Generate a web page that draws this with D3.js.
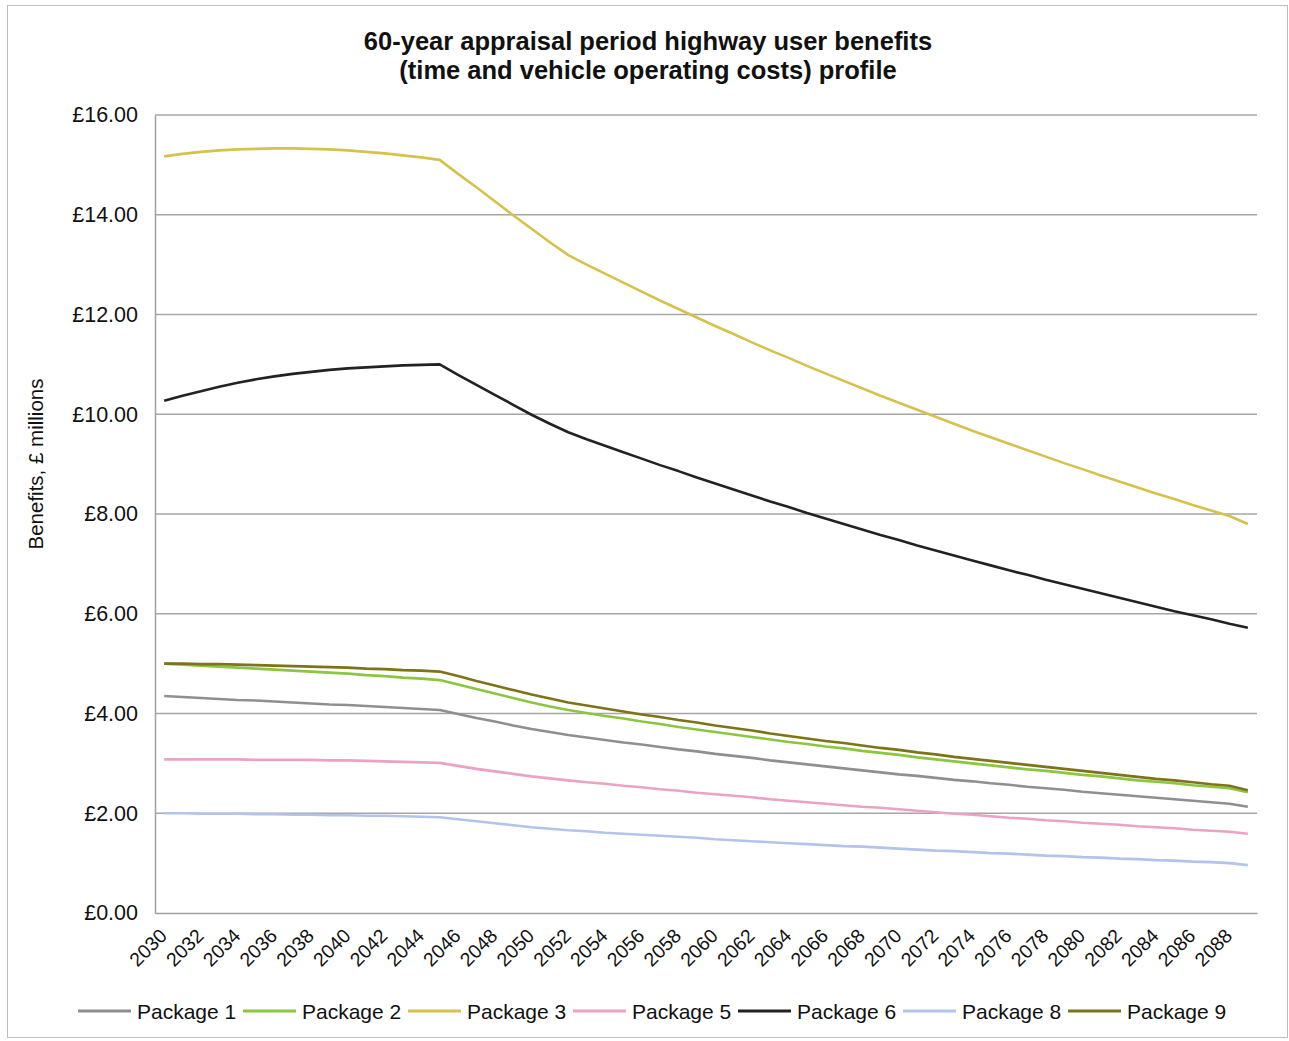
<!DOCTYPE html>
<html>
<head>
<meta charset="utf-8">
<script src="https://cdn.jsdelivr.net/npm/d3@7"></script>
<style>
  html, body { margin: 0; padding: 0; background: #fff; }
  svg text { font-family: "Liberation Sans", Arial, sans-serif; fill: #111; }
</style>
</head>
<body>
<svg id="chart" width="1289" height="1041"></svg>
<script>
// ---- data ----
const years = d3.range(2030, 2090);
const seriesNames = ["Package 1", "Package 2", "Package 3", "Package 5", "Package 6", "Package 8", "Package 9"];
const package1 = [4.35,4.33,4.31,4.29,4.27,4.26,4.24,4.22,4.20,4.18,4.17,4.15,4.13,4.11,4.09,4.07,3.99,3.91,3.84,3.76,3.69,3.63,3.57,3.52,3.47,3.42,3.38,3.33,3.28,3.24,3.19,3.15,3.11,3.06,3.02,2.98,2.94,2.90,2.86,2.82,2.78,2.75,2.71,2.67,2.64,2.60,2.57,2.53,2.50,2.47,2.43,2.40,2.37,2.34,2.31,2.28,2.25,2.22,2.19,2.13];
const package2 = [5.00,4.98,4.96,4.94,4.92,4.90,4.88,4.86,4.84,4.82,4.80,4.77,4.75,4.72,4.70,4.67,4.58,4.49,4.40,4.31,4.22,4.14,4.07,4.01,3.95,3.90,3.84,3.79,3.73,3.68,3.63,3.58,3.53,3.48,3.43,3.39,3.34,3.30,3.25,3.21,3.17,3.12,3.08,3.04,3.00,2.96,2.92,2.88,2.85,2.81,2.77,2.74,2.70,2.66,2.63,2.60,2.56,2.53,2.50,2.42];
const package3 = [15.17,15.22,15.26,15.29,15.31,15.32,15.33,15.33,15.32,15.31,15.29,15.26,15.23,15.19,15.15,15.10,14.82,14.55,14.27,13.99,13.72,13.45,13.19,13.00,12.82,12.64,12.46,12.28,12.11,11.94,11.77,11.61,11.44,11.28,11.13,10.97,10.82,10.67,10.52,10.37,10.23,10.09,9.95,9.81,9.67,9.54,9.41,9.28,9.15,9.02,8.90,8.77,8.65,8.53,8.41,8.30,8.18,8.07,7.96,7.80];
const package5 = [3.08,3.08,3.08,3.08,3.08,3.07,3.07,3.07,3.07,3.06,3.06,3.05,3.04,3.03,3.02,3.01,2.95,2.89,2.84,2.79,2.74,2.70,2.66,2.62,2.59,2.55,2.52,2.48,2.45,2.41,2.38,2.35,2.32,2.28,2.25,2.22,2.19,2.16,2.13,2.11,2.08,2.05,2.02,1.99,1.97,1.94,1.91,1.89,1.86,1.84,1.81,1.79,1.77,1.74,1.72,1.70,1.67,1.65,1.63,1.59];
const package6 = [10.27,10.37,10.46,10.55,10.63,10.70,10.76,10.81,10.85,10.89,10.92,10.94,10.96,10.98,10.99,11.00,10.79,10.59,10.39,10.19,9.99,9.81,9.64,9.50,9.37,9.24,9.11,8.98,8.86,8.73,8.61,8.49,8.37,8.25,8.14,8.02,7.91,7.80,7.69,7.58,7.48,7.37,7.27,7.17,7.07,6.97,6.87,6.78,6.68,6.59,6.50,6.41,6.32,6.23,6.14,6.05,5.97,5.89,5.80,5.72];
const package8 = [2.00,2.00,1.99,1.99,1.99,1.98,1.98,1.97,1.97,1.96,1.96,1.95,1.95,1.94,1.93,1.92,1.88,1.84,1.80,1.76,1.72,1.69,1.66,1.64,1.61,1.59,1.57,1.55,1.53,1.51,1.48,1.46,1.44,1.42,1.40,1.38,1.36,1.34,1.33,1.31,1.29,1.27,1.25,1.24,1.22,1.20,1.19,1.17,1.15,1.14,1.12,1.11,1.09,1.08,1.06,1.05,1.03,1.02,1.00,0.96];
const package9 = [5.00,5.00,4.99,4.99,4.98,4.97,4.96,4.95,4.94,4.93,4.92,4.90,4.89,4.87,4.86,4.84,4.75,4.65,4.56,4.47,4.38,4.30,4.22,4.16,4.10,4.04,3.98,3.93,3.87,3.82,3.76,3.71,3.66,3.60,3.55,3.50,3.45,3.41,3.36,3.31,3.27,3.22,3.18,3.13,3.09,3.05,3.01,2.97,2.93,2.89,2.85,2.81,2.77,2.73,2.69,2.66,2.62,2.58,2.55,2.46];
const yTicks = [0, 2, 4, 6, 8, 10, 12, 14, 16];
const xTickYears = d3.range(2030, 2090, 2);
const titleLines = ["60-year appraisal period highway user benefits", "(time and vehicle operating costs) profile"];
const yAxisTitle = "Benefits, £ millions";

const seriesValues = [package1, package2, package3, package5, package6, package8, package9];
const colors = ["#8f8f8f", "#8cc540", "#d5c24c", "#eba2c4", "#222222", "#b3c3ec", "#7d7318"];
// draw order (back to front)
const drawOrder = [5, 3, 0, 1, 6, 4, 2];

// ---- layout ----
const svg = d3.select("#chart");
const margin = { left: 155, right: 1257, top: 115, bottom: 913 };

svg.append("rect").attr("x", 7.5).attr("y", 5.5).attr("width", 1280).attr("height", 1032)
  .attr("fill", "#fff").attr("stroke", "#bdbdbd").attr("stroke-width", 1);

const x = d3.scaleBand().domain(years).range([margin.left, margin.right]);
const xc = yr => x(yr) + x.bandwidth() / 2;
const y = d3.scaleLinear().domain([0, 16]).range([margin.bottom, margin.top]);

// gridlines
svg.append("g").selectAll("line").data(yTicks.filter(d => d > 0)).join("line")
  .attr("x1", margin.left).attr("x2", margin.right)
  .attr("y1", d => y(d)).attr("y2", d => y(d))
  .attr("stroke", "#a6a6a6").attr("stroke-width", 1.3);

// y axis
const yAxis = svg.append("g").attr("transform", `translate(${margin.left},0)`)
  .call(d3.axisLeft(y).tickValues(yTicks).tickSize(0).tickPadding(17)
    .tickFormat(d => "£" + d3.format(".2f")(d)));
yAxis.select(".domain").attr("stroke", "#a0a0a0").attr("stroke-width", 1.5);
yAxis.selectAll("text").style("font-size", "21.5px").attr("fill", "#111");

// x axis
const xAxis = svg.append("g").attr("transform", `translate(0,${margin.bottom})`)
  .call(d3.axisBottom(x).tickValues(xTickYears).tickSize(0).tickSizeOuter(0).tickFormat(d3.format("d")));
xAxis.select(".domain").attr("stroke", "#a0a0a0").attr("stroke-width", 1.5);
xAxis.selectAll("text")
  .style("font-size", "19.5px").attr("fill", "#111")
  .attr("text-anchor", "end").attr("dy", null).attr("y", 0)
  .attr("transform", "translate(4,24) rotate(-45)");

// lines
const line = d3.line().x((d, i) => xc(years[i])).y(d => y(d)).curve(d3.curveLinear);
svg.append("g").selectAll("path").data(drawOrder).join("path")
  .attr("d", k => line(seriesValues[k]))
  .attr("fill", "none").attr("stroke", k => colors[k])
  .attr("stroke-width", 2.6).attr("stroke-linejoin", "round");

// title
svg.append("g").selectAll("text").data(titleLines).join("text")
  .attr("x", 648).attr("y", (d, i) => 50 + i * 29)
  .attr("text-anchor", "middle").style("font-size", "25.5px").style("font-weight", "bold")
  .text(d => d);

// y axis title
svg.append("text").attr("transform", "translate(43,464) rotate(-90)")
  .attr("text-anchor", "middle").style("font-size", "20.5px").text(yAxisTitle);

// legend
const legend = svg.append("g").selectAll("g").data(seriesNames).join("g")
  .attr("transform", (d, i) => `translate(${78 + i * 165},1011)`);
legend.append("line").attr("x1", 0).attr("x2", 53).attr("y1", 0).attr("y2", 0)
  .attr("stroke", (d, i) => colors[i]).attr("stroke-width", 2.8);
legend.append("text").attr("x", 59).attr("y", 7.5).style("font-size", "21px").text(d => d);
</script>
</body>
</html>
